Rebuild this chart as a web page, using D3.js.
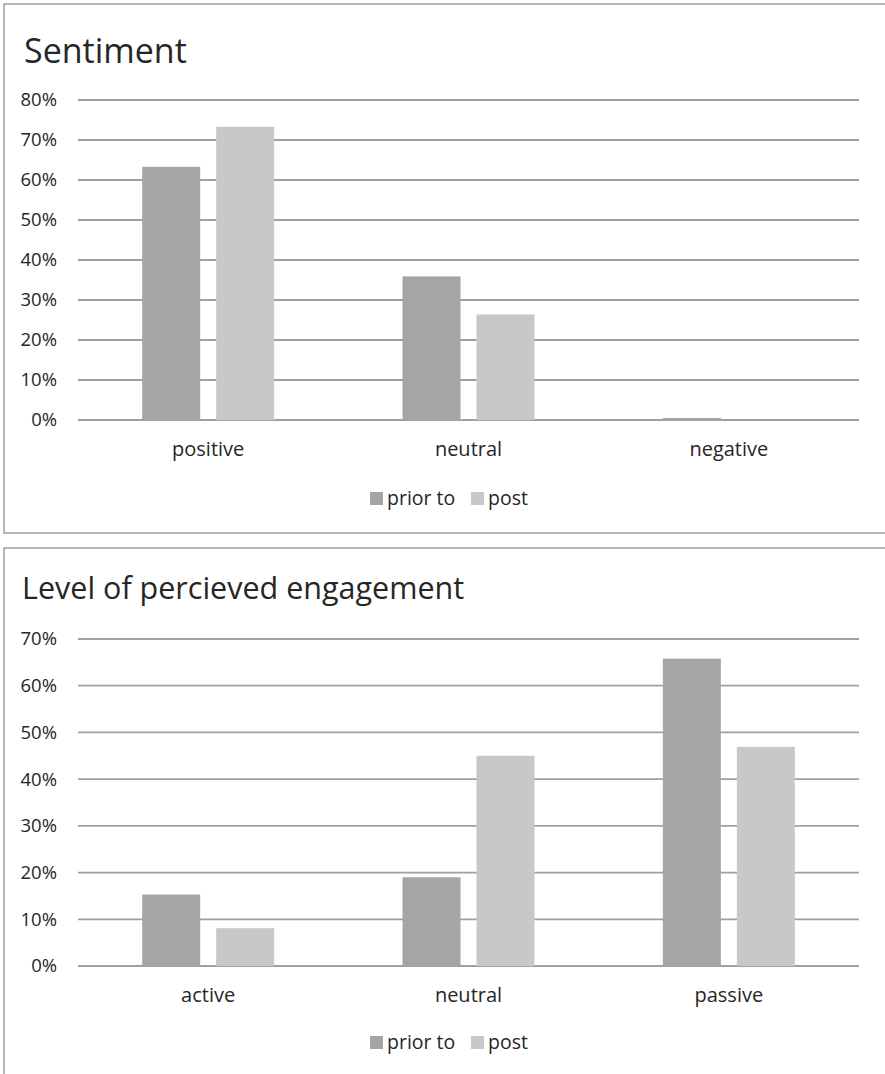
<!DOCTYPE html>
<html>
<head>
<meta charset="utf-8">
<script src="https://cdn.jsdelivr.net/npm/d3@7"></script>
<style>
  html, body { margin: 0; padding: 0; background: #ffffff; }
  svg { display: block; }
  text { font-family: "Open Sans", "Noto Sans", sans-serif; fill: #262626; }
</style>
</head>
<body>
<svg id="chart" width="885" height="1074"></svg>
<script>
// Series shared by both charts
const seriesNames = ["prior to", "post"];
const seriesColors = ["#a5a5a8", "#c8c8ca"];

// Chart 1: Sentiment
const sentimentTitle = "Sentiment";
const sentimentCategories = ["positive", "neutral", "negative"];
const sentimentPrior = [0.633, 0.359, 0.005];
const sentimentPost = [0.733, 0.264, 0.0];
const sentimentTicks = [0, 0.1, 0.2, 0.3, 0.4, 0.5, 0.6, 0.7, 0.8];

// Chart 2: Level of perceived engagement
const engagementTitle = "Level of percieved engagement";
const engagementCategories = ["active", "neutral", "passive"];
const engagementPrior = [0.153, 0.19, 0.658];
const engagementPost = [0.081, 0.45, 0.469];
const engagementTicks = [0, 0.1, 0.2, 0.3, 0.4, 0.5, 0.6, 0.7];

const svg = d3.select("#chart");
const pct = d3.format(".0%");

function drawPanel(cfg) {
  const g = svg.append("g");

  // panel frame
  g.append("rect")
    .attr("x", cfg.frame.x).attr("y", cfg.frame.y)
    .attr("width", cfg.frame.w).attr("height", cfg.frame.h)
    .attr("fill", "#ffffff")
    .attr("stroke", "#a0a0a0")
    .attr("stroke-width", 1.5);

  // title
  g.append("text")
    .attr("x", cfg.titleX).attr("y", cfg.titleY)
    .attr("font-size", cfg.titleSize)
    .text(cfg.title);

  const y = d3.scaleLinear()
    .domain([0, d3.max(cfg.ticks)])
    .range([cfg.plot.bottom, cfg.plot.top]);

  const x = d3.scaleBand()
    .domain(cfg.categories)
    .range([cfg.plot.left, cfg.plot.right]);

  const cw = x.bandwidth();
  const groupWidth = cw * 0.507;
  const xs = d3.scaleBand()
    .domain(seriesNames)
    .range([(cw - groupWidth) / 2, (cw + groupWidth) / 2])
    .paddingInner(0.216);

  // gridlines (the 0% line doubles as the category axis)
  g.append("g").selectAll("line")
    .data(cfg.ticks)
    .join("line")
    .attr("x1", cfg.plot.left).attr("x2", cfg.plot.right)
    .attr("y1", d => y(d)).attr("y2", d => y(d))
    .attr("stroke", "#a0a0a0")
    .attr("stroke-width", 1.8);

  // value axis labels
  g.append("g").selectAll("text")
    .data(cfg.ticks)
    .join("text")
    .attr("x", 57)
    .attr("y", d => y(d))
    .attr("dy", "0.35em")
    .attr("text-anchor", "end")
    .attr("font-size", 18.5)
    .text(d => pct(d));

  // bars
  const rows = cfg.categories.map((c, i) => ({
    category: c,
    values: [cfg.prior[i], cfg.post[i]]
  }));

  const groups = g.append("g").selectAll("g")
    .data(rows)
    .join("g")
    .attr("transform", d => `translate(${x(d.category)},0)`);

  groups.selectAll("rect")
    .data(d => d.values.map((v, j) => ({ series: seriesNames[j], value: v, color: seriesColors[j] })))
    .join("rect")
    .attr("x", d => xs(d.series))
    .attr("width", xs.bandwidth())
    .attr("y", d => y(d.value))
    .attr("height", d => y(0) - y(d.value))
    .attr("fill", d => d.color);

  // category labels
  g.append("g").selectAll("text")
    .data(cfg.categories)
    .join("text")
    .attr("x", d => x(d) + cw / 2)
    .attr("y", cfg.plot.bottom + 36)
    .attr("text-anchor", "middle")
    .attr("font-size", 20)
    .text(d => d);

  // legend
  const legend = g.append("g");
  const legendX = [370, 471];
  seriesNames.forEach((name, j) => {
    legend.append("rect")
      .attr("x", legendX[j]).attr("y", cfg.legendY - 13)
      .attr("width", 13).attr("height", 13)
      .attr("fill", seriesColors[j]);
    legend.append("text")
      .attr("x", legendX[j] + 17).attr("y", cfg.legendY)
      .attr("font-size", 19.5)
      .text(name);
  });
}

drawPanel({
  frame: { x: 4, y: 4, w: 900, h: 529 },
  title: sentimentTitle,
  titleSize: 34,
  titleX: 24, titleY: 63,
  categories: sentimentCategories,
  prior: sentimentPrior,
  post: sentimentPost,
  ticks: sentimentTicks,
  plot: { left: 78, right: 859, top: 100, bottom: 420 },
  legendY: 505
});

drawPanel({
  frame: { x: 4, y: 548, w: 900, h: 540 },
  title: engagementTitle,
  titleSize: 30.5,
  titleX: 22, titleY: 599,
  categories: engagementCategories,
  prior: engagementPrior,
  post: engagementPost,
  ticks: engagementTicks,
  plot: { left: 78, right: 859, top: 639, bottom: 966 },
  legendY: 1049
});
</script>
</body>
</html>
